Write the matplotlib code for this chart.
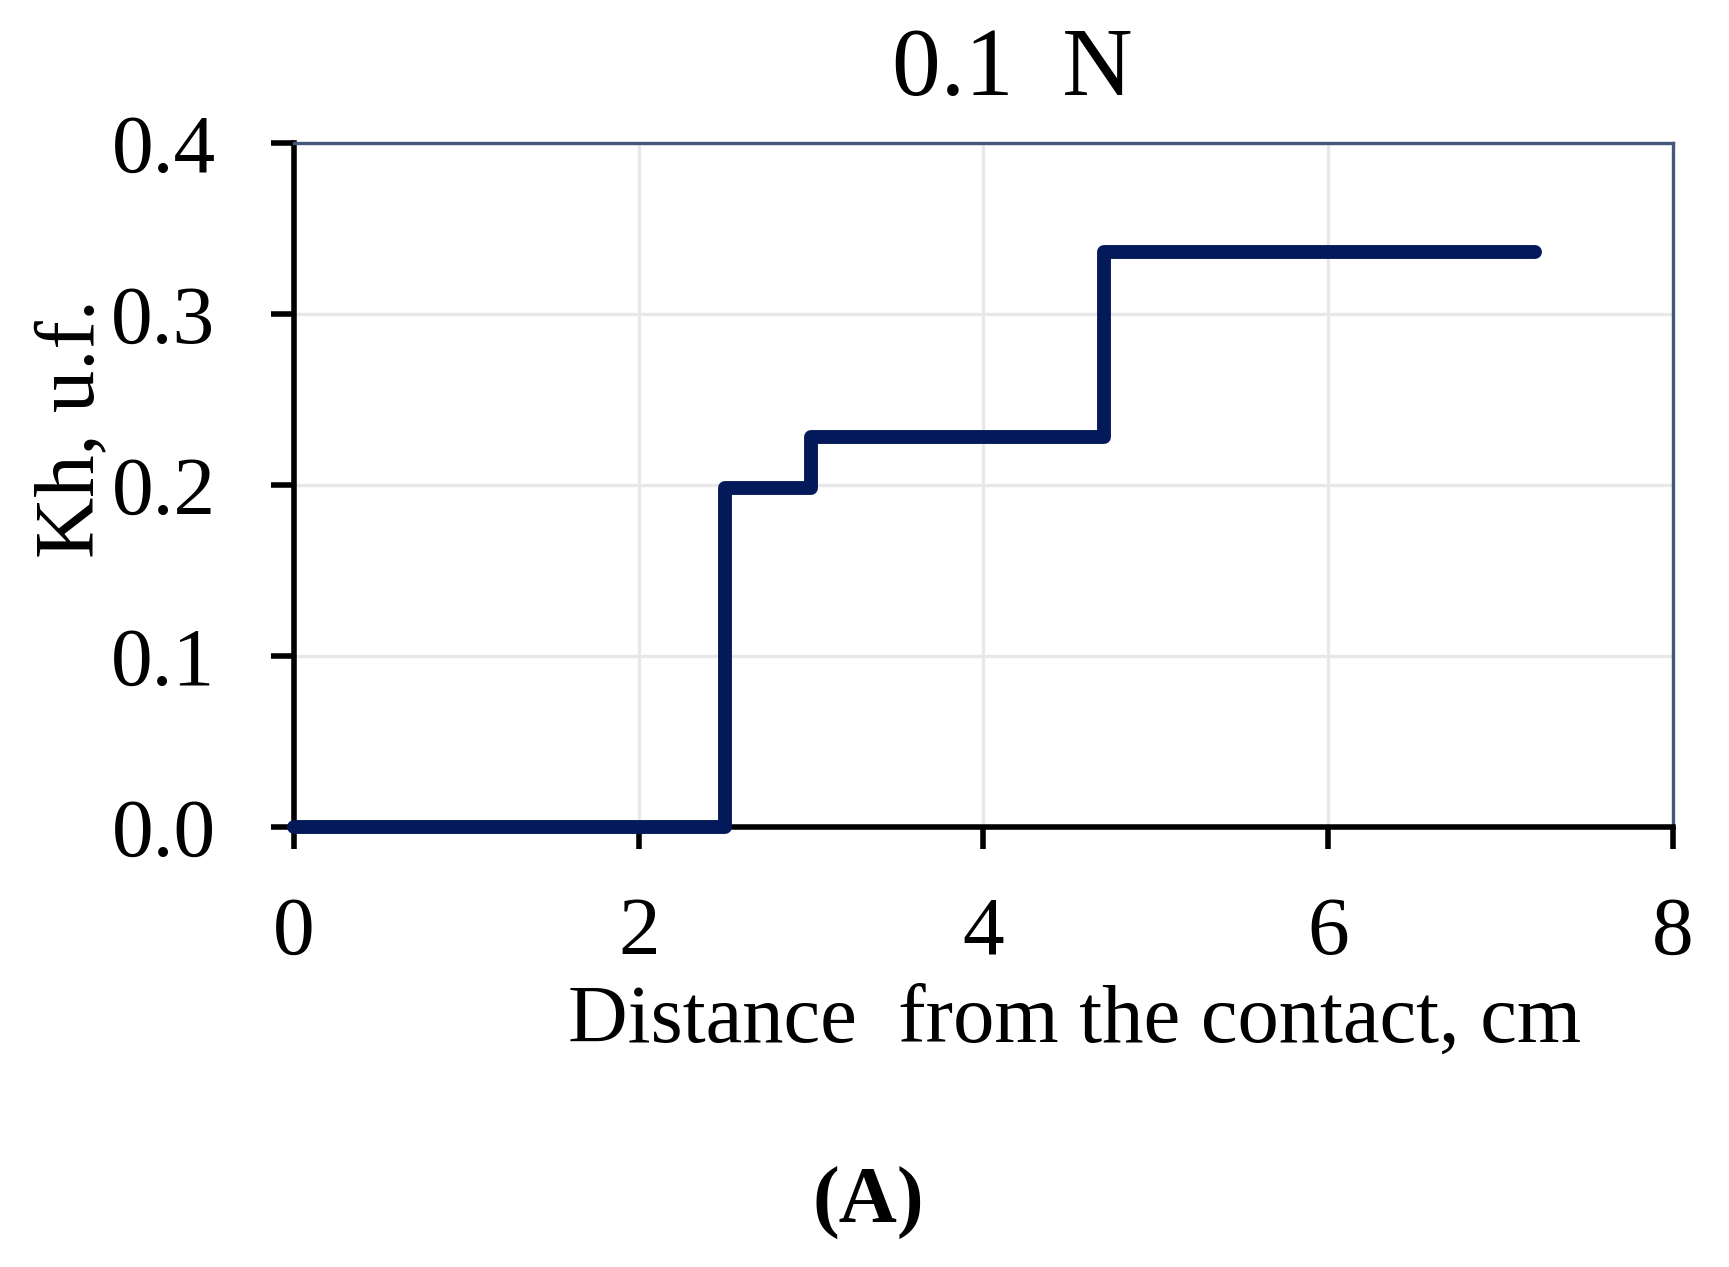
import matplotlib
matplotlib.use("Agg")
import matplotlib.pyplot as plt

# Data (step function, steps-post)
distance_cm = [0.0, 2.5, 3.0, 4.7, 7.2]
kh_values = [0.0, 0.198, 0.228, 0.336, 0.336]
x_ticks = [0, 2, 4, 6, 8]
y_ticks = [0.0, 0.1, 0.2, 0.3, 0.4]
y_tick_labels = ["0.0", "0.1", "0.2", "0.3", "0.4"]

title_text = "0.1  N"
xlabel_text = "Distance  from the contact, cm"
ylabel_text = "Kh, u.f."
panel_text = "(A)"

plt.rcParams['font.family'] = ['Liberation Serif', 'DejaVu Serif']

W, H = 1729, 1267
fig = plt.figure(figsize=(W / 100, H / 100), dpi=100)
ax = fig.add_axes([294 / W, 1 - 827 / H, (1673 - 294) / W, (827 - 143) / H])

line_color = "#04195a"
ax.plot(distance_cm, kh_values, drawstyle="steps-post", color=line_color,
        lw=10, solid_capstyle="round", solid_joinstyle="round", zorder=5,
        clip_on=False)

ax.set_xlim(0, 8)
ax.set_ylim(0, 0.4)
ax.set_xticks(x_ticks)
ax.set_yticks(y_ticks)
ax.set_yticklabels(y_tick_labels)

ax.grid(True, color="#e8e8e8", lw=2.4)
ax.set_axisbelow(True)

for s in ["left", "bottom"]:
    ax.spines[s].set_color("black")
    ax.spines[s].set_linewidth(4.0)
for s in ["top", "right"]:
    ax.spines[s].set_color("#44587a")
    ax.spines[s].set_linewidth(2.4)

ax.tick_params(axis="y", direction="out", length=16.5, width=4.0, pad=40,
               labelsize=60, colors="black")
ax.tick_params(axis="x", direction="out", length=16, width=4.0, pad=34,
               labelsize=60, colors="black")

fig.text(1012 / W, 1 - 72 / H, title_text, ha="center", va="center", fontsize=70)
fig.text(1075 / W, 1 - 1022 / H, xlabel_text, ha="center", va="center", fontsize=59.5)
fig.text(74 / W, 1 - 428 / H, ylabel_text, ha="center", va="center",
         rotation=90, fontsize=61)
fig.text(868 / W, 1 - 1203 / H, panel_text, ha="center", va="center",
         fontsize=58, fontweight="bold")

fig.savefig("out.png", dpi=100)
